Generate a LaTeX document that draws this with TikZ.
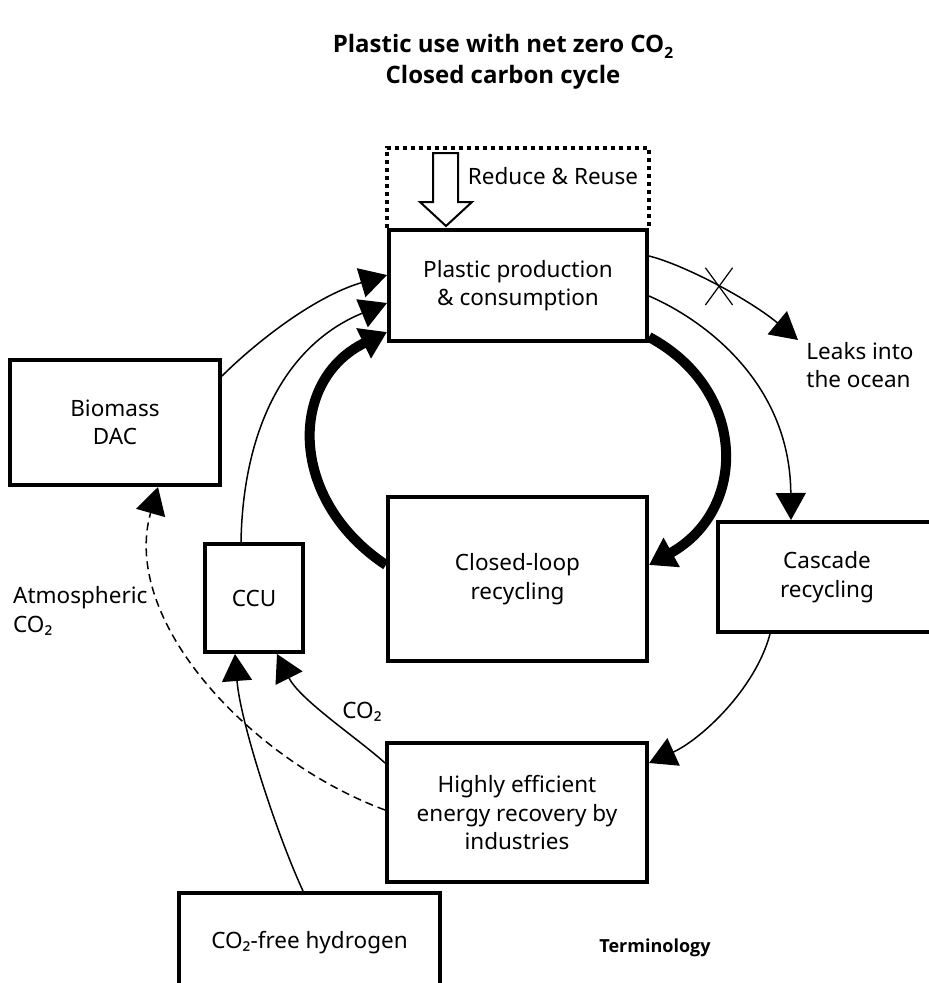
\documentclass[tikz,border=0pt]{standalone}
\usepackage{fontspec}
\setmainfont{Noto Sans}
\newfontfamily\myboldfam{Open Sans}
\usetikzlibrary{arrows.meta,shapes.misc}
\newcommand\mybodyfont{\fontsize{22.5}{28.5}\selectfont}
\newcommand\mytitlefont{\myboldfam\bfseries\fontsize{24}{31}\selectfont}
\newcommand\mytermfont{\myboldfam\bfseries\fontsize{18}{20}\selectfont}
\newcommand\mysubtwo{\raisebox{-0.22em}{\fontsize{15.5}{15.5}\selectfont 2}}
\begin{document}
\begin{tikzpicture}[x=1pt,y=-1pt,
  box/.style={draw, line width=4pt, inner sep=0pt, align=center, font=\mybodyfont},
  lbl/.style={inner sep=0pt, font=\mybodyfont},
  conn/.style={line width=1.5pt, -{Triangle[length=27pt,width=30pt]}},
  thickconn/.style={line width=10pt, -{Triangle[length=26pt,width=32pt]}},
  dashconn/.style={line width=1.5pt, dash pattern=on 8pt off 5pt, -{Triangle[length=27pt,width=30pt]}},
  dotframe/.style={line width=4pt, dash pattern=on 4pt off 4pt},
  crossx/.style={cross out, draw, line width=1.2pt, minimum width=26pt, minimum height=36pt, inner sep=0pt, fill=white}
]
\useasboundingbox (0,0) rectangle (929,983);

% title
\node[font=\mytitlefont, align=center, inner sep=0pt] (title) at (503,62) {Plastic use with net zero CO\mysubtwo\\Closed carbon cycle};

% boxes
\node[box, minimum width=258pt, minimum height=111pt] (plastic) at (518,285.5) {Plastic production\\\& consumption};
\node[box, minimum width=210pt, minimum height=125pt] (biomass) at (115,422.5) {Biomass\\DAC};
\node[box, minimum width=98pt, minimum height=108pt] (ccu) at (254,598) {CCU};
\node[box, minimum width=259pt, minimum height=164pt] (closed) at (517.5,579) {Closed-loop\\recycling};
\node[box, minimum width=218pt, minimum height=110pt] (cascade) at (827,577) {Cascade\\recycling};
\node[box, minimum width=260pt, minimum height=139pt] (highly) at (517,812.5) {Highly efficient\\energy recovery by\\industries};
\node[box, minimum width=261pt, minimum height=100pt] (hydrogen) at (309.5,943) {CO₂-free hydrogen};

% labels
\node[lbl] (reduce) at (553,176) {Reduce \& Reuse};
\node[lbl, align=left] (leaks) at (860,365) {Leaks into\\the ocean};
\node[lbl, align=left, anchor=west] (atm) at (13,611) {Atmospheric\\CO₂};
\node[lbl] (co2) at (362,712) {CO₂};
\node[font=\mytermfont, inner sep=0pt] (term) at (655,948) {Terminology};
\coordinate (leakend) at (798,340);

% reduce & reuse frame and hollow arrow
\draw[dotframe] (plastic.north west) -- ([yshift=80pt]plastic.north west) -- ([yshift=80pt]plastic.north east) -- (plastic.north east);
\draw[line width=2pt, fill=white, line join=miter] (433,153) -- (458,153) -- (458,202) -- (472,202) -- (446,226) -- (420,202) -- (433,202) -- cycle;

% connectors
\draw[conn] ([yshift=-18pt]biomass.north east) .. controls (250,348) and (310,298) .. ([yshift=-47pt]plastic.north west);
\draw[conn] ([xshift=38pt]ccu.north west) .. controls (243,430) and (285,345) .. ([yshift=-75pt]plastic.north west);
\draw[thickconn] ([yshift=14pt]closed.west) .. controls (288,500) and (288,380) .. ([yshift=11pt]plastic.south west);
\draw[thickconn] ([yshift=6pt]plastic.south east) .. controls (748,390) and (748,510) .. ([yshift=14pt]closed.east);
\draw[conn] ([yshift=-68pt]plastic.north east) .. controls (700,318) and (790,380) .. ([xshift=75pt]cascade.north west);
\draw[conn] ([yshift=-28pt]plastic.north east) .. controls (685,265) and (750,300) .. (leakend) node[crossx, pos=0.5] (xmark) {};
\draw[conn] ([xshift=54pt]cascade.south west) .. controls (755,690) and (700,740) .. ([yshift=49.5pt]highly.east);
\draw[conn] ([yshift=49.5pt]highly.west) .. controls (360,740) and (300,700) .. ([xshift=-28pt]ccu.south east);
\draw[dashconn] ([yshift=2.5pt]highly.west) .. controls (250,760) and (120,620) .. ([xshift=150pt]biomass.south west);
\draw[conn] ([xshift=126pt]hydrogen.north west) .. controls (275,830) and (240,720) .. ([xshift=32pt]ccu.south west);
\end{tikzpicture}
\end{document}
